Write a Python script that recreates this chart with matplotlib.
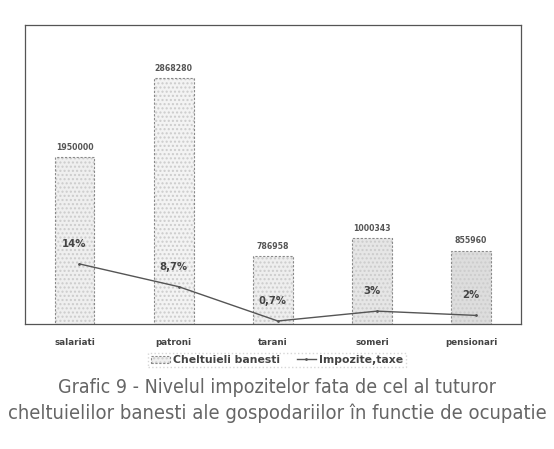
import matplotlib.pyplot as plt
import numpy as np

categorii = ['salariati', 'patroni', 'tarani', 'someri', 'pensionari']
cheltuieli = [1950000, 2868280, 786958, 1000343, 855960]
impozite = [14, 8.7, 0.7, 3, 2]
etichete_proc = ['14%', '8,7%', '0,7%', '3%', '2%']

fig = plt.figure(figsize=(5.54, 4.49), dpi=100)
ax = fig.add_axes([0.045, 0.2784, 0.895, 0.666])
x = np.arange(len(categorii))

culori = ['#efefef', '#f3f3f3', '#eeeeee', '#e6e6e6', '#dddddd']
bars = ax.bar(x, cheltuieli, width=0.4, color=culori, edgecolor='#8a8a8a',
              linewidth=0.8, linestyle=(0, (2, 1.5)), hatch='....', label='Cheltuieli banesti')
for b in bars:
    b._hatch_color = (0.8, 0.8, 0.8, 1)
for xi, v in zip(x, cheltuieli):
    ax.text(xi, v + 60000, str(v), ha='center', va='bottom', fontsize=5.6,
            fontweight='bold', color='#555555')

ax.set_xlim(-0.5, len(categorii) - 0.5)
ax.set_ylim(0, 3486000)
ax.set_yticks([])
ax.set_xticks(x)
ax.set_xticklabels(categorii, fontsize=6.3, fontweight='bold', color='#444444')
ax.tick_params(axis='x', length=0, pad=10)
for s in ax.spines.values():
    s.set_color('#555555')
    s.set_linewidth(0.9)

ax2 = ax.twinx()
ax2.plot(x + 0.05, impozite, color='#555555', lw=1.0, marker='.', markersize=2,
         label='Impozite,taxe')
for xi, v, t in zip(x, impozite, etichete_proc):
    ax2.text(xi, v + 3.5, t, ha='center', va='bottom', fontsize=7.3,
             fontweight='bold', color='#444444')
ax2.set_ylim(0, 69.7)
ax2.set_yticks([])
for s in ax2.spines.values():
    s.set_visible(False)

h1, l1 = ax.get_legend_handles_labels()
h2, l2 = ax2.get_legend_handles_labels()
leg = fig.legend(h1 + h2, l1 + l2, loc='center', bbox_to_anchor=(0.5, 0.198),
                 ncol=2, fontsize=7.8, frameon=True, handlelength=1.8,
                 handletextpad=0.3, columnspacing=1.5, borderpad=0.2)
leg.get_frame().set_edgecolor('#cccccc')
leg.get_frame().set_linestyle(':')
leg.get_frame().set_boxstyle('square', pad=0)
for t in leg.get_texts():
    t.set_color('#444444')
    t.set_fontweight('bold')

fig.text(0.5, 0.138, 'Grafic 9 - Nivelul impozitelor fata de cel al tuturor',
         ha='center', va='center', fontsize=14, color='#666666',
         family='DejaVu Sans', stretch='condensed')
fig.text(0.5, 0.08, 'cheltuielilor banesti ale gospodariilor în functie de ocupatie',
         ha='center', va='center', fontsize=14.5, color='#666666',
         family='DejaVu Sans', stretch='condensed')

fig.savefig('out.png', dpi=100)
